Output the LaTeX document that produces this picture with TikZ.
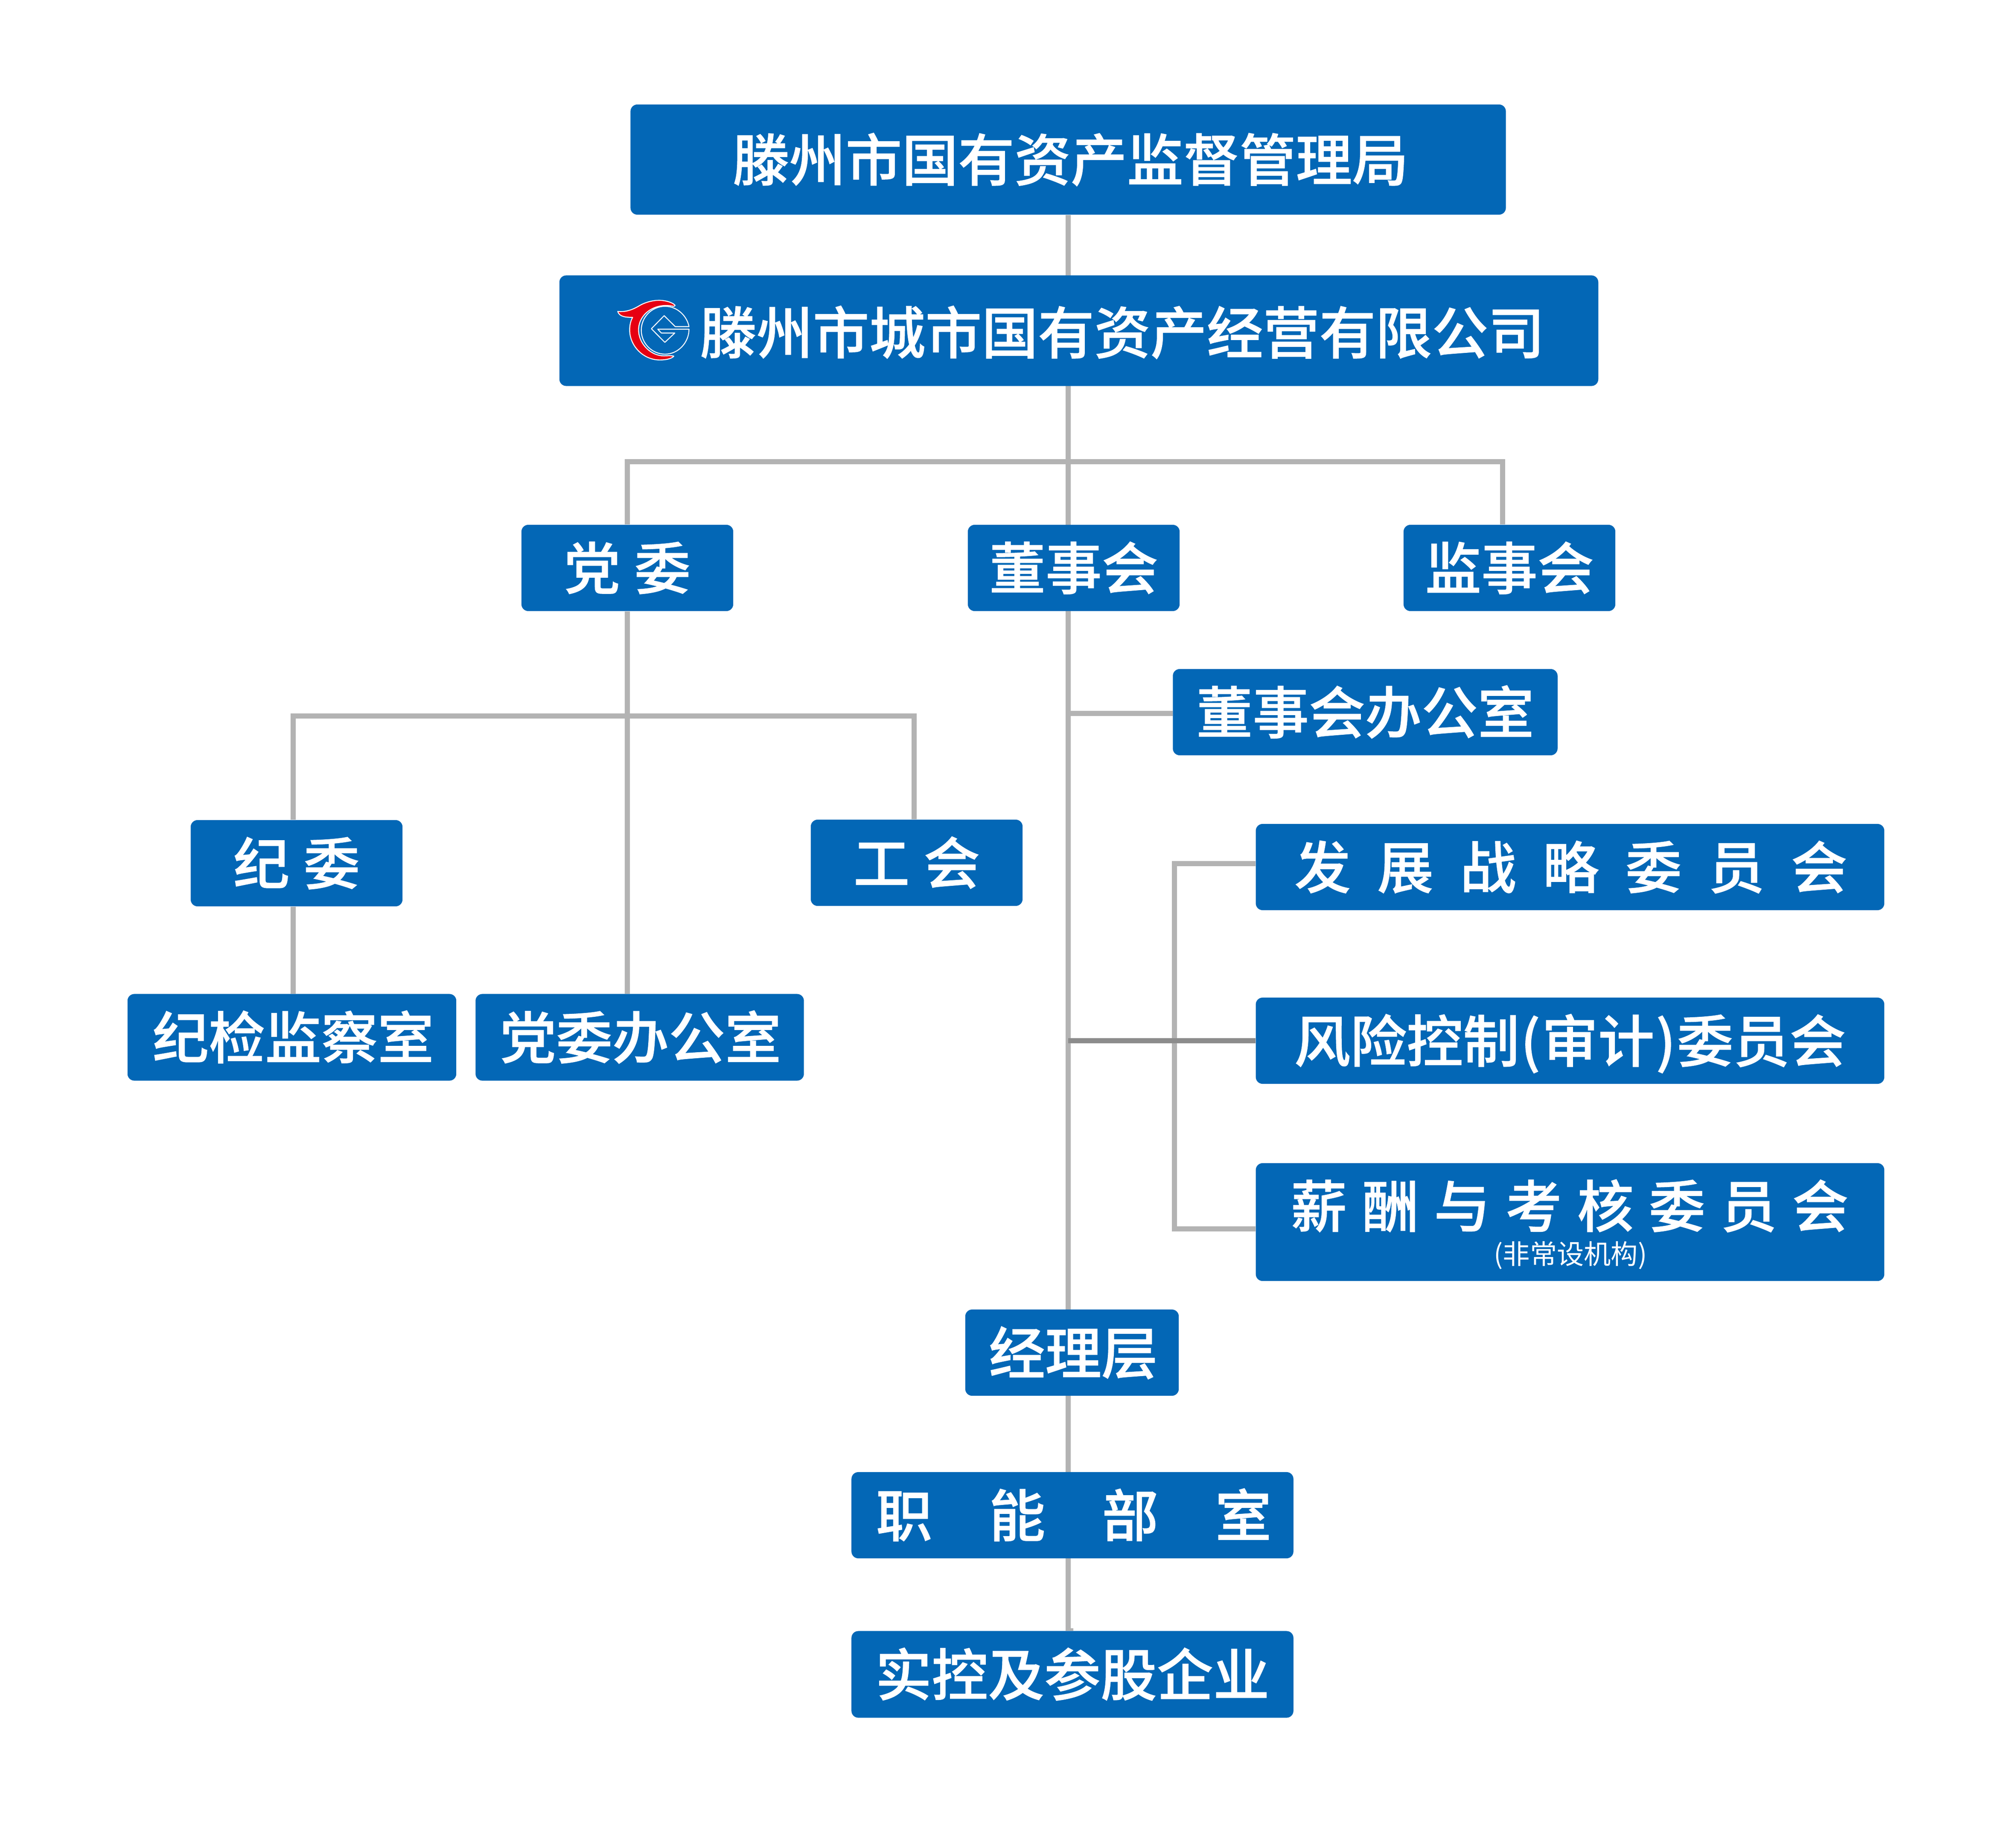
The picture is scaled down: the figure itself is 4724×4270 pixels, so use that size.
\documentclass[tikz,border=0pt]{standalone}
\usepackage{fontspec}
\usetikzlibrary{backgrounds}
\setmainfont{Noto Sans CJK SC}[BoldFont={Noto Sans CJK SC Medium},BoldFeatures={FakeBold=0.9}]
\definecolor{boxblue}{HTML}{0367B6}
\definecolor{linegray}{HTML}{B3B3B3}
\definecolor{darkline}{HTML}{8C8C8C}
\definecolor{logored}{HTML}{E60012}
\newcommand{\hgap}[1]{\hspace{#1cm}}
\tikzset{
  box/.style={fill=boxblue,text=white,rounded corners=0.16cm,inner sep=0pt,align=center,
    font=\fontsize{37.5}{42}\selectfont\bfseries,text height=1.12cm,text depth=0.12cm},
  narrowbox/.style={box,minimum width=4.96cm,minimum height=2.02cm},
  link/.style={draw=linegray,line width=0.12cm},
  linkdark/.style={draw=darkline,line width=0.12cm},
  logoline/.style={draw=white,line width=0.022cm,line join=round}
}
\begin{document}
\begin{tikzpicture}[x=0.01cm,y=-0.01cm]
\useasboundingbox (0,0) rectangle (4724,4270);
% connector guide points
\coordinate (trunk) at (2503,0);
\coordinate (riser) at (2752,0);
\coordinate (stemA) at (1470,0);
\coordinate (stemB) at (3521,0);
\coordinate (stemC) at (687,0);
\coordinate (stemD) at (2142,0);
\coordinate (stemE) at (2509,0);
\coordinate (busA) at (0,1082);
\coordinate (busB) at (0,1678);
\coordinate (tapA) at (0,1672);
\coordinate (tapB) at (0,2024);
\coordinate (tapC) at (0,2880);
\coordinate (tapD) at (0,2439);
\coordinate (tapE) at (0,3816);
% boxes
\node[box,minimum width=20.50cm,minimum height=2.58cm] (gzw) at (2503,374) {\hspace*{0.12cm}滕州市国有资产监督管理局};
\node[box,minimum width=24.33cm,minimum height=2.59cm,text height=1.20cm] (co) at (2528,775) {\hspace*{2.04cm}滕州市城市国有资产经营有限公司};
\node[narrowbox] (dw) at (1470,1331) {党\hgap{0.33}委};
\node[narrowbox] (dsh) at (2516,1331) {董事会};
\node[narrowbox] (jsh) at (3537,1331) {监事会};
\node[box,minimum width=9.01cm,minimum height=2.02cm] (dban) at (3199,1669) {董事会办公室};
\node[box,minimum width=14.72cm,minimum height=2.02cm] (fz) at (3679,2032) {\hspace*{0.04cm}发\hgap{0.62}展\hgap{0.62}战\hgap{0.62}略\hgap{0.62}委\hgap{0.62}员\hgap{0.62}会};
\node[box,minimum width=14.72cm,minimum height=2.02cm] (fx) at (3679,2439) {风险控制\hgap{0.03}(\hgap{0.03}审计\hgap{0.03})\hgap{0.03}委员会};
\node[box,minimum width=14.72cm,minimum height=2.76cm,text height=0pt,text depth=0pt] (xc) at (3679,2864) {};
\node[text=white,inner sep=0pt,font=\fontsize{37.5}{42}\selectfont\bfseries] (xct) at (3678,2826) {薪\hgap{0.36}酬\hgap{0.36}与\hgap{0.36}考\hgap{0.36}核\hgap{0.36}委\hgap{0.36}员\hgap{0.36}会};
\node[text=white,inner sep=0pt,font=\fontsize{18}{20}\selectfont] (xcs) at (3680,2942) {(非常设机构)};
\node[narrowbox] (jw) at (695,2023) {纪\hgap{0.33}委};
\node[narrowbox] (gh) at (2148,2022) {工\hgap{0.33}会};
\node[box,minimum width=7.70cm,minimum height=2.03cm] (jj) at (684,2431) {\hspace*{0.06cm}纪检监察室};
\node[box,minimum width=7.69cm,minimum height=2.03cm] (dbg) at (1499,2431) {\hspace*{0.04cm}党委办公室};
\node[box,minimum width=5.00cm,minimum height=2.02cm] (jl) at (2512,3170) {\hspace*{0.06cm}经理层};
\node[box,minimum width=10.35cm,minimum height=2.02cm] (zn) at (2513,3551) {\hspace*{0.06cm}职\hgap{1.33}能\hgap{1.33}部\hgap{1.33}室};
\node[box,minimum width=10.35cm,minimum height=2.03cm] (sk) at (2513,3924) {实控及参股企业};
% connectors, beneath the boxes
\begin{scope}[on background layer]
\path[link] (trunk |- gzw.south) -- (trunk |- sk.north);
\path[link] (stemE |- tapE) -- (stemE |- sk.north);
\path[link] (stemA |- dw.north) -- (stemA |- busA) -- (stemB |- busA) -- (stemB |- jsh.north);
\path[link] (stemA |- dw.south) -- (stemA |- dbg.north);
\path[link] (stemC |- jw.north) -- (stemC |- busB) -- (stemD |- busB) -- (stemD |- gh.north);
\path[link] (stemC |- jw.south) -- (stemC |- jj.north);
\path[link] (trunk |- tapA) -- (dban.west |- tapA);
\path[link] (fz.west |- tapB) -- (riser |- tapB) -- (riser |- tapC) -- (xc.west |- tapC);
\path[linkdark] (trunk |- tapD) -- (fx.west |- tapD);
\end{scope}
% company logo
\begin{scope}[shift={(1300,620)},x=0.003333cm,y=-0.003333cm]
\path[logoline,fill=logored] (443,330)
  .. controls (490,335) and (535,325) .. (590,293)
  .. controls (640,262) and (700,250) .. (745,252)
  .. controls (790,255) and (830,268) .. (847,287)
  .. controls (845,295) and (835,295) .. (825,292)
  .. controls (700,270) and (590,350) .. (590,460)
  .. controls (590,560) and (680,645) .. (770,643)
  .. controls (795,642) and (820,640) .. (838,645)
  .. controls (825,662) and (785,672) .. (740,672)
  .. controls (620,672) and (527,570) .. (527,460)
  .. controls (527,425) and (535,395) .. (548,372)
  .. controls (505,372) and (455,370) .. (443,330) -- cycle;
\path[logoline] (945,455)
  .. controls (945,548) and (870,631) .. (777,631)
  .. controls (684,631) and (609,555) .. (609,462)
  .. controls (609,369) and (684,294) .. (777,294)
  .. controls (860,294) and (930,360) .. (945,437)
  -- (848,437) -- (770,360) -- (680,452) -- (775,548) -- (845,482) -- (750,482) -- (725,455) -- cycle;
\end{scope}
\end{tikzpicture}
\end{document}
